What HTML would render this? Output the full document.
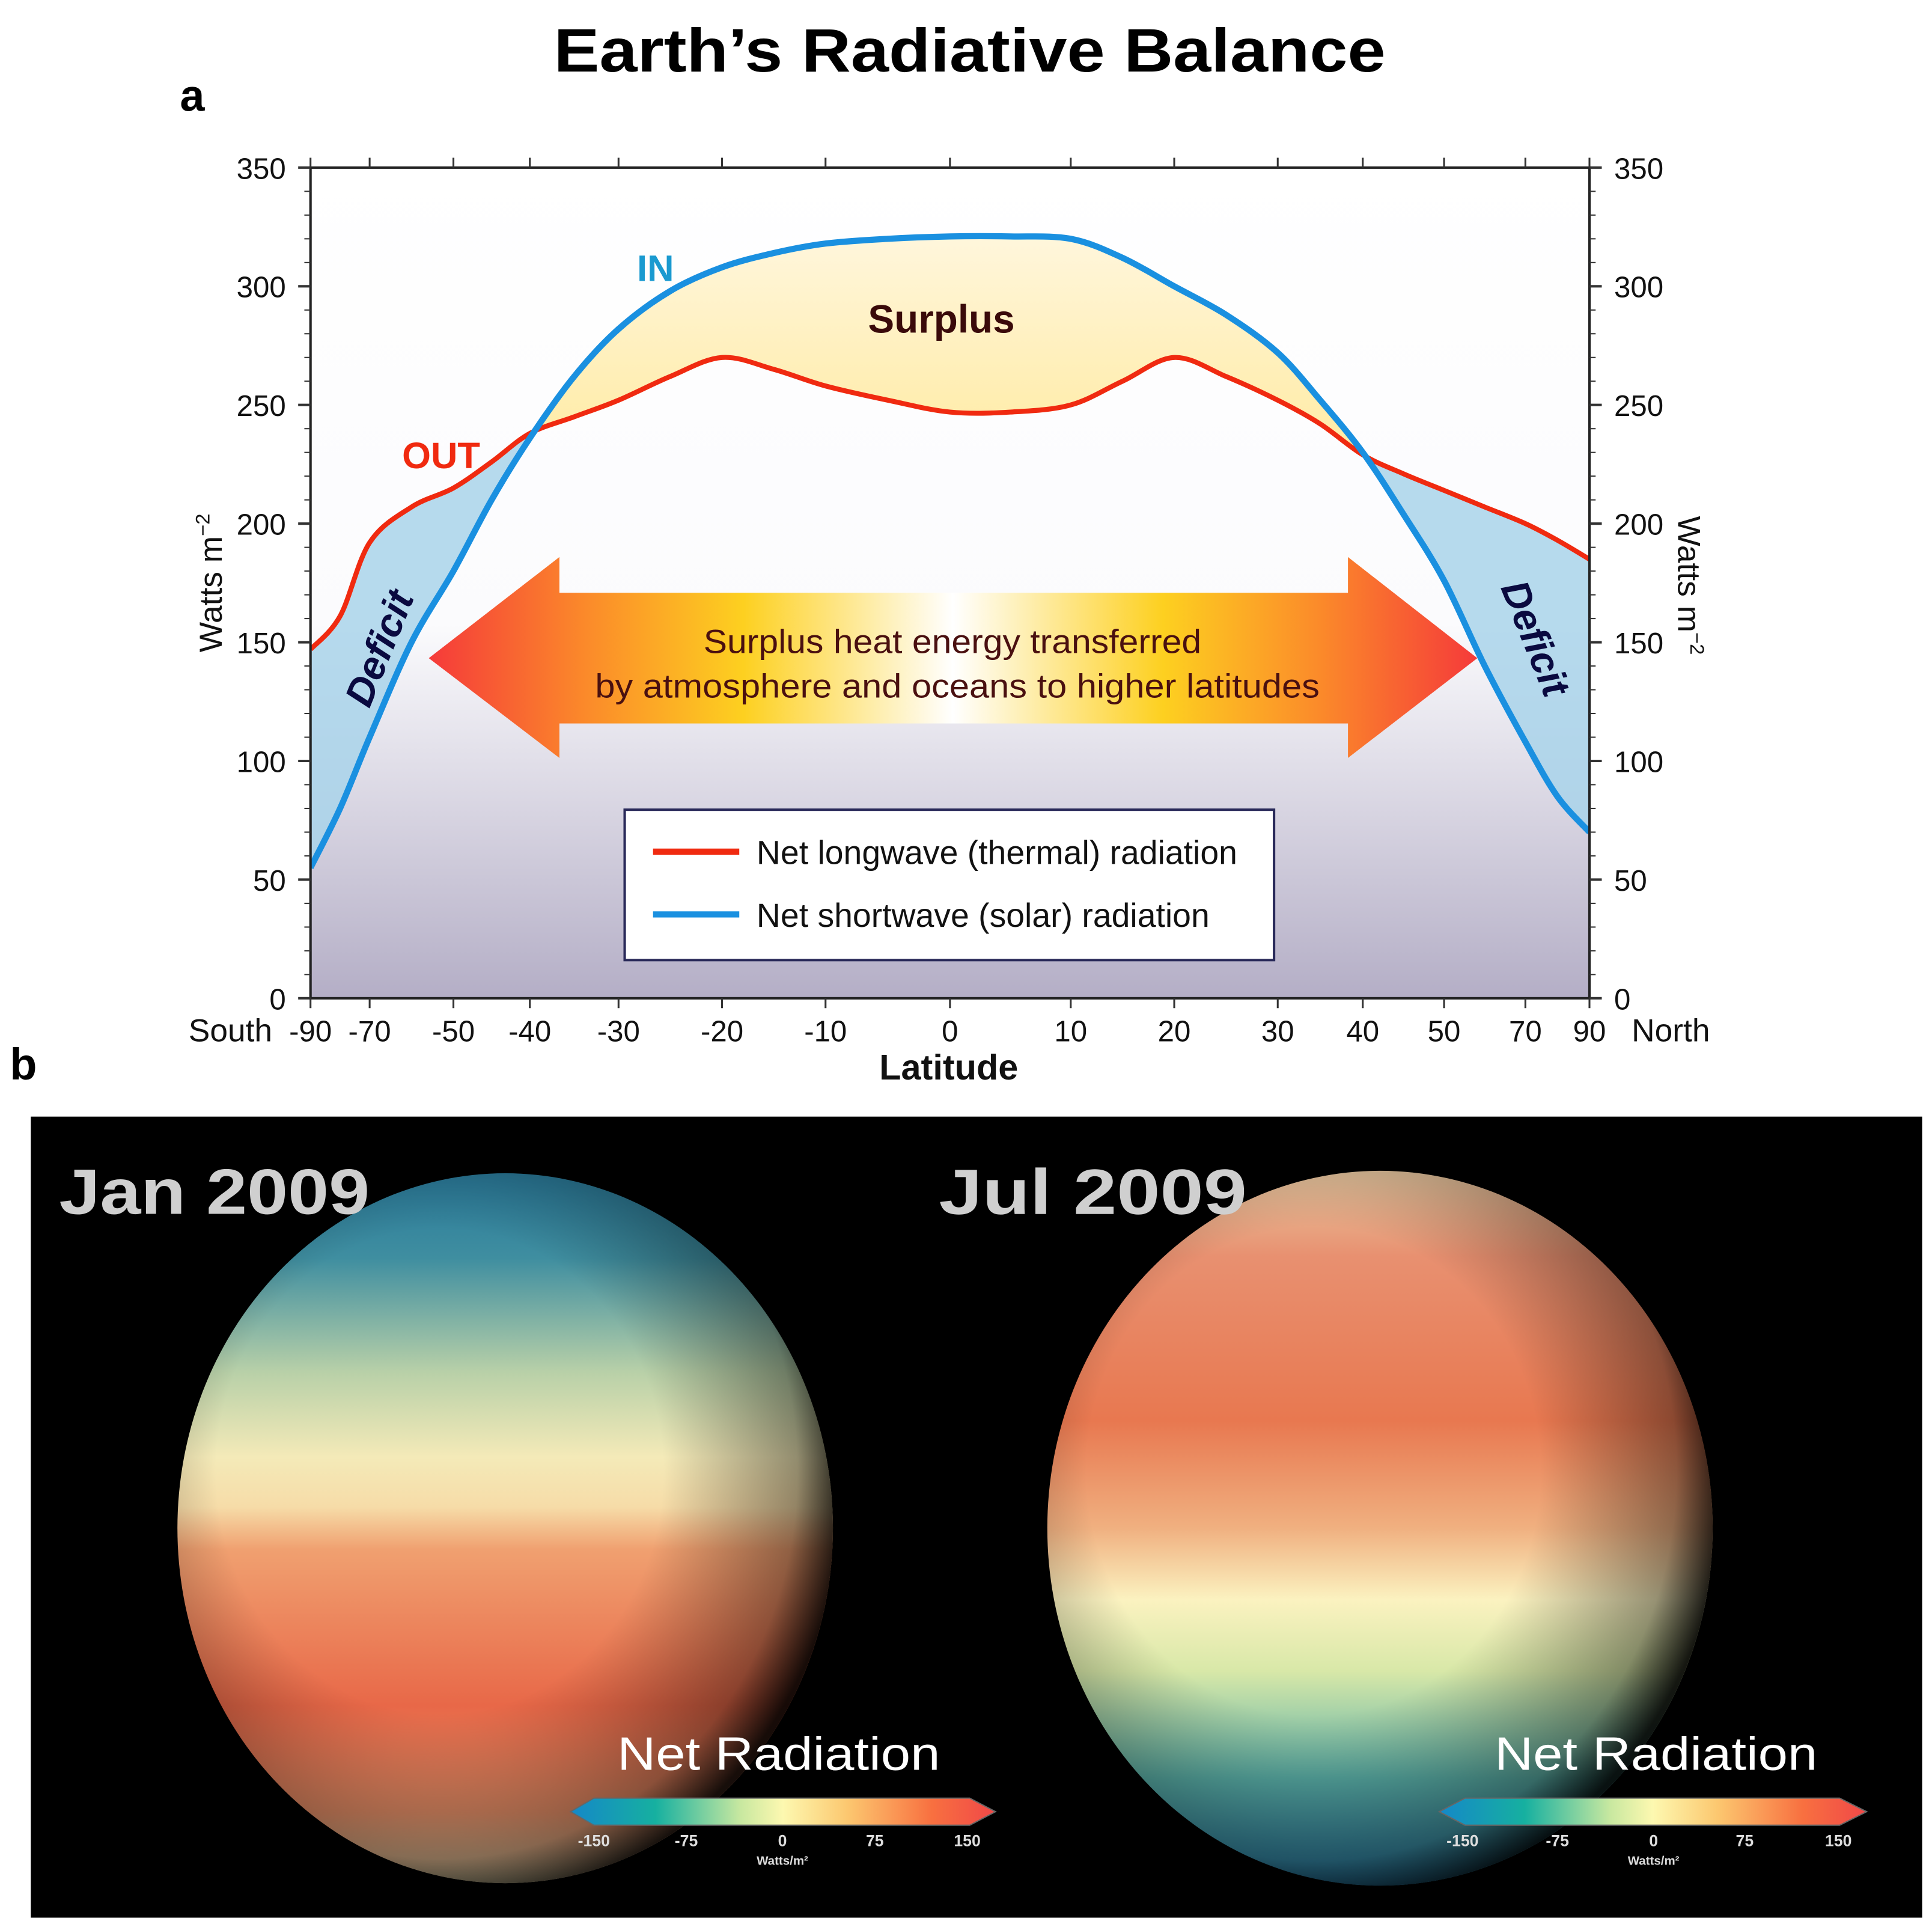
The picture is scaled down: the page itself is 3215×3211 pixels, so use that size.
<!DOCTYPE html>
<html><head><meta charset="utf-8"><style>
html,body{margin:0;padding:0;background:#fff;width:3215px;height:3211px;overflow:hidden}
svg{display:block}
.cond{font-family:"Liberation Sans Narrow","Liberation Sans",sans-serif}
</style></head><body>
<svg id="fig" width="3215" height="3211" viewBox="0 0 1568 1566" preserveAspectRatio="none" xmlns="http://www.w3.org/2000/svg">
<defs>
<linearGradient id="bg" x1="0" y1="0" x2="0" y2="1">
<stop offset="0" stop-color="#ffffff"/><stop offset="0.55" stop-color="#fbfbfd"/><stop offset="1" stop-color="#b4aec6"/></linearGradient>
<linearGradient id="surp" x1="0" y1="0" x2="0" y2="1">
<stop offset="0" stop-color="#fff6dc"/><stop offset="0.5" stop-color="#ffe68a"/><stop offset="1" stop-color="#fde58c"/></linearGradient>
<linearGradient id="arrowg" x1="0" y1="0" x2="1" y2="0">
<stop offset="0" stop-color="#f53a3a"/><stop offset="0.15" stop-color="#fb8a2a"/><stop offset="0.3" stop-color="#fdd020"/><stop offset="0.5" stop-color="#ffffff"/><stop offset="0.7" stop-color="#fdd020"/><stop offset="0.85" stop-color="#fb8a2a"/><stop offset="1" stop-color="#f53a3a"/></linearGradient>
<linearGradient id="cbar" x1="0" y1="0" x2="1" y2="0">
<stop offset="0" stop-color="#1588c8"/><stop offset="0.2" stop-color="#16b0a0"/><stop offset="0.4" stop-color="#c8e8a0"/><stop offset="0.5" stop-color="#fdf8b0"/><stop offset="0.65" stop-color="#fcc870"/><stop offset="0.85" stop-color="#f87040"/><stop offset="1" stop-color="#f04848"/></linearGradient>
<linearGradient id="jang" x1="0" y1="0" x2="0" y2="1">
<stop offset="0" stop-color="#2a7a9a"/><stop offset="0.12" stop-color="#3f8ea0"/><stop offset="0.28" stop-color="#b8d0a8"/><stop offset="0.4" stop-color="#f4eab8"/><stop offset="0.47" stop-color="#f6dca8"/><stop offset="0.53" stop-color="#f0a070"/><stop offset="0.75" stop-color="#e86848"/><stop offset="0.9" stop-color="#e89068"/><stop offset="1" stop-color="#d8c8a0"/></linearGradient>
<linearGradient id="julg" x1="0" y1="0" x2="0" y2="1">
<stop offset="0" stop-color="#e8c8a0"/><stop offset="0.12" stop-color="#e89070"/><stop offset="0.35" stop-color="#e87850"/><stop offset="0.5" stop-color="#f0b080"/><stop offset="0.6" stop-color="#fbf2c0"/><stop offset="0.7" stop-color="#d8e8a8"/><stop offset="0.85" stop-color="#5ab0a8"/><stop offset="1" stop-color="#2a7ea8"/></linearGradient>
<radialGradient id="shade" cx="0.4" cy="0.42" r="0.62">
<stop offset="0.55" stop-color="#000" stop-opacity="0"/><stop offset="0.88" stop-color="#000" stop-opacity="0.4"/><stop offset="1" stop-color="#000" stop-opacity="0.9"/></radialGradient>
<clipPath id="plotclip"><rect x="252" y="136" width="1038" height="674"/></clipPath>
</defs>
<text x="787" y="58" text-anchor="middle" font-family="Liberation Sans, sans-serif" font-weight="bold" font-size="50" textLength="675" lengthAdjust="spacingAndGlyphs" fill="#000">Earth’s Radiative Balance</text>
<text x="146" y="90" font-family="Liberation Sans, sans-serif" font-weight="bold" font-size="36">a</text>
<text x="8" y="876" font-family="Liberation Sans, sans-serif" font-weight="bold" font-size="36">b</text>
<g id="chart">
<rect x="252" y="136" width="1038" height="674" fill="url(#bg)"/>
<g id="fills" clip-path="url(#plotclip)"></g>
<g id="arrow">
<polygon points="348,534 454,452 454,481 1094,481 1094,452 1199,534 1094,615 1094,587 454,587 454,615" fill="url(#arrowg)"/>
<text x="773" y="530" text-anchor="middle" class="cond" font-size="27" textLength="404" lengthAdjust="spacingAndGlyphs" fill="#4a1010">Surplus heat energy transferred</text>
<text x="777" y="566" text-anchor="middle" class="cond" font-size="27" textLength="588" lengthAdjust="spacingAndGlyphs" fill="#4a1010">by atmosphere and oceans to higher latitudes</text>
</g>
<g id="lines" clip-path="url(#plotclip)"></g>
<rect x="252" y="136" width="1038" height="674" fill="none" stroke="#222" stroke-width="2"/>
<g id="axes"></g>
<text x="764" y="270" text-anchor="middle" class="cond" font-weight="bold" font-size="32" fill="#3a0a0a">Surplus</text>
<text x="532" y="228" text-anchor="middle" class="cond" font-weight="bold" font-size="30" fill="#1a9ad0">IN</text>
<text x="358" y="380" text-anchor="middle" class="cond" font-weight="bold" font-size="30" fill="#f02a10">OUT</text>
<text transform="translate(318,530) rotate(-68)" text-anchor="middle" class="cond" font-weight="bold" font-style="italic" font-size="32" fill="#0a0a40">Deficit</text>
<text transform="translate(1236,522) rotate(68)" text-anchor="middle" class="cond" font-weight="bold" font-style="italic" font-size="32" fill="#0a0a40">Deficit</text>
<g>
<rect x="507" y="657" width="527" height="122" fill="#fff" stroke="#2a2a5a" stroke-width="2"/>
<line x1="530" y1="691" x2="600" y2="691" stroke="#f02a10" stroke-width="5"/>
<text x="614" y="701" class="cond" font-size="27" fill="#111">Net longwave (thermal) radiation</text>
<line x1="530" y1="742" x2="600" y2="742" stroke="#1a90e0" stroke-width="5"/>
<text x="614" y="752" class="cond" font-size="27" fill="#111">Net shortwave (solar) radiation</text>
</g>
<text transform="translate(180,473) rotate(-90)" text-anchor="middle" class="cond" font-size="26" fill="#111">Watts m<tspan dy="-10" font-size="16">−2</tspan></text>
<text transform="translate(1362,475) rotate(90)" text-anchor="middle" class="cond" font-size="26" fill="#111">Watts m<tspan dy="-10" font-size="16">−2</tspan></text>
<text x="187" y="845" text-anchor="middle" class="cond" font-size="26" fill="#111">South</text>
<text x="1356" y="845" text-anchor="middle" class="cond" font-size="26" fill="#111">North</text>
<text x="770" y="876" text-anchor="middle" class="cond" font-weight="bold" font-size="29" fill="#111">Latitude</text>
</g>
<g>
<rect x="25" y="906" width="1535" height="650" fill="#000"/>
<ellipse cx="410" cy="1240" rx="266" ry="288" fill="url(#jang)"/>
<ellipse cx="410" cy="1240" rx="266" ry="288" fill="url(#shade)"/>
<ellipse cx="1120" cy="1240" rx="270" ry="290" fill="url(#julg)"/>
<ellipse cx="1120" cy="1240" rx="270" ry="290" fill="url(#shade)"/>
<text x="48" y="985" font-family="Liberation Sans, sans-serif" font-weight="bold" font-size="52" textLength="252" lengthAdjust="spacingAndGlyphs" fill="#cfcfcf">Jan  2009</text>
<text x="762" y="985" font-family="Liberation Sans, sans-serif" font-weight="bold" font-size="52" textLength="250" lengthAdjust="spacingAndGlyphs" fill="#cfcfcf">Jul   2009</text>
<g>
<text x="632" y="1436" text-anchor="middle" font-family="Liberation Sans, sans-serif" font-size="38" textLength="262" lengthAdjust="spacingAndGlyphs" fill="#fff">Net Radiation</text>
<polygon points="463,1470 482,1459 787,1459 808,1470 787,1481 482,1481" fill="url(#cbar)" stroke="#666" stroke-width="1"/>
<g font-family="Liberation Sans, sans-serif" font-size="13" font-weight="bold" fill="#ddd" text-anchor="middle">
<text x="482" y="1498">-150</text><text x="557" y="1498">-75</text><text x="635" y="1498">0</text><text x="710" y="1498">75</text><text x="785" y="1498">150</text><text x="635" y="1513" font-size="10">Watts/m²</text></g>
</g>
<g>
<text x="1344" y="1436" text-anchor="middle" font-family="Liberation Sans, sans-serif" font-size="38" textLength="262" lengthAdjust="spacingAndGlyphs" fill="#fff">Net Radiation</text>
<polygon points="1168,1470 1189,1459 1493,1459 1515,1470 1493,1481 1189,1481" fill="url(#cbar)" stroke="#666" stroke-width="1"/>
<g font-family="Liberation Sans, sans-serif" font-size="13" font-weight="bold" fill="#ddd" text-anchor="middle">
<text x="1187" y="1498">-150</text><text x="1264" y="1498">-75</text><text x="1342" y="1498">0</text><text x="1416" y="1498">75</text><text x="1492" y="1498">150</text><text x="1342" y="1513" font-size="10">Watts/m²</text></g>
</g>
</g>
</svg>
<script>
const lats = [-90,-80,-70,-60,-50,-45,-40,-35,-30,-25,-20,-15,-10,-5,0,5,10,15,20,25,30,35,40,45,50,60,70,80,90];
const outVals = [147,161,192,207,215,226,238,245,252,262,270,265,258,252,247,247,250,260,270,262,252,242,229,221,214,207,200,193,185];
const inVals = [55,80,110,150,180,210,236,262,282,298,308,314,318,320,321,321,320,312,300,288,272,252,230,204,176,140,108,85,70];
const xTicks = [-90,-70,-50,-40,-30,-20,-10,0,10,20,30,40,50,70,90];
const yTicks = [0,50,100,150,200,250,300,350];
// axis scale (non-uniform latitude axis as printed): domain knots -> range knots
const xDomain = [-90,-70,-50,-40,-30,-20,-10,0,10,20,30,40,50,70,90];
const xRange = [252,300,368,430,502,586,670,771,869,953,1037,1106,1172,1238,1290];
const NS='http://www.w3.org/2000/svg';
function xs(lat){for(let i=0;i<xDomain.length-1;i++){if(lat<=xDomain[i+1]){const t=(lat-xDomain[i])/(xDomain[i+1]-xDomain[i]);return xRange[i]+t*(xRange[i+1]-xRange[i]);}}return xRange[xRange.length-1];}
function ys(v){return 810-v*(674/350);}
function mk(tag,attrs,parent){const e=document.createElementNS(NS,tag);for(const k in attrs)e.setAttribute(k,attrs[k]);parent.appendChild(e);return e;}
function smooth(pts){let d='M'+pts[0][0]+','+pts[0][1];for(let i=0;i<pts.length-1;i++){const p0=pts[Math.max(0,i-1)],p1=pts[i],p2=pts[i+1],p3=pts[Math.min(pts.length-1,i+2)];const c1=[p1[0]+(p2[0]-p0[0])/6,p1[1]+(p2[1]-p0[1])/6],c2=[p2[0]-(p3[0]-p1[0])/6,p2[1]-(p3[1]-p1[1])/6];d+=' C'+c1[0]+','+c1[1]+' '+c2[0]+','+c2[1]+' '+p2[0]+','+p2[1];}return d;}
const outPts=lats.map((l,i)=>[xs(l),ys(outVals[i])]);
const inPts=lats.map((l,i)=>[xs(l),ys(inVals[i])]);
const fills=document.getElementById('fills');
const between=smooth(outPts)+' L'+smooth(inPts.slice().reverse()).slice(1)+' Z';
const crosses=[];
for(let i=0;i<lats.length-1;i++){const a=inVals[i]-outVals[i],b=inVals[i+1]-outVals[i+1];if(a*b<0){const t=a/(a-b);crosses.push(lats[i]+t*(lats[i+1]-lats[i]));}}
const cx1=xs(crosses[0]),cx2=xs(crosses[crosses.length-1]);
const defs=document.querySelector('defs');
const cpS=mk('clipPath',{id:'cpS'},defs);mk('rect',{x:cx1,y:0,width:cx2-cx1,height:900},cpS);
const cpD=mk('clipPath',{id:'cpD'},defs);mk('rect',{x:0,y:0,width:cx1,height:900},cpD);mk('rect',{x:cx2,y:0,width:600,height:900},cpD);
const sf=mk('path',{d:between,fill:'url(#surp)','clip-path':'url(#cpS)'},fills);


const df=mk('path',{d:between,fill:'#a9d4ea','fill-opacity':'0.85','clip-path':'url(#cpD)'},fills);


const lines=document.getElementById('lines');
const ol=mk('path',{d:smooth(outPts),fill:'none',stroke:'#f02a10','stroke-width':4},lines);


const il=mk('path',{d:smooth(inPts),fill:'none',stroke:'#1a90e0','stroke-width':5},lines);


const ax=document.getElementById('axes');
for(let v=0;v<=350;v+=10){const y=ys(v);const major=v%50===0;
mk('line',{x1:252-(major?10:5),y1:y,x2:252,y2:y,stroke:'#333','stroke-width':major?2:1},ax);
mk('line',{x1:1290,y1:y,x2:1290+(major?10:5),y2:y,stroke:'#333','stroke-width':major?2:1},ax);}
yTicks.forEach(v=>{
const t1=mk('text',{x:232,y:ys(v)+9,'text-anchor':'end','font-size':24,fill:'#111',class:'cond'},ax);t1.textContent=v;


const t2=mk('text',{x:1310,y:ys(v)+9,'font-size':24,fill:'#111',class:'cond'},ax);t2.textContent=v;

});
xTicks.forEach(l=>{const x=xs(l);
mk('line',{x1:x,y1:128,x2:x,y2:136,stroke:'#333','stroke-width':1.5},ax);
mk('line',{x1:x,y1:810,x2:x,y2:818,stroke:'#333','stroke-width':1.5},ax);
const t=mk('text',{x:x,y:845,'text-anchor':'middle','font-size':24,fill:'#111',class:'cond'},ax);t.textContent=l;

});
</script>
</body></html>
